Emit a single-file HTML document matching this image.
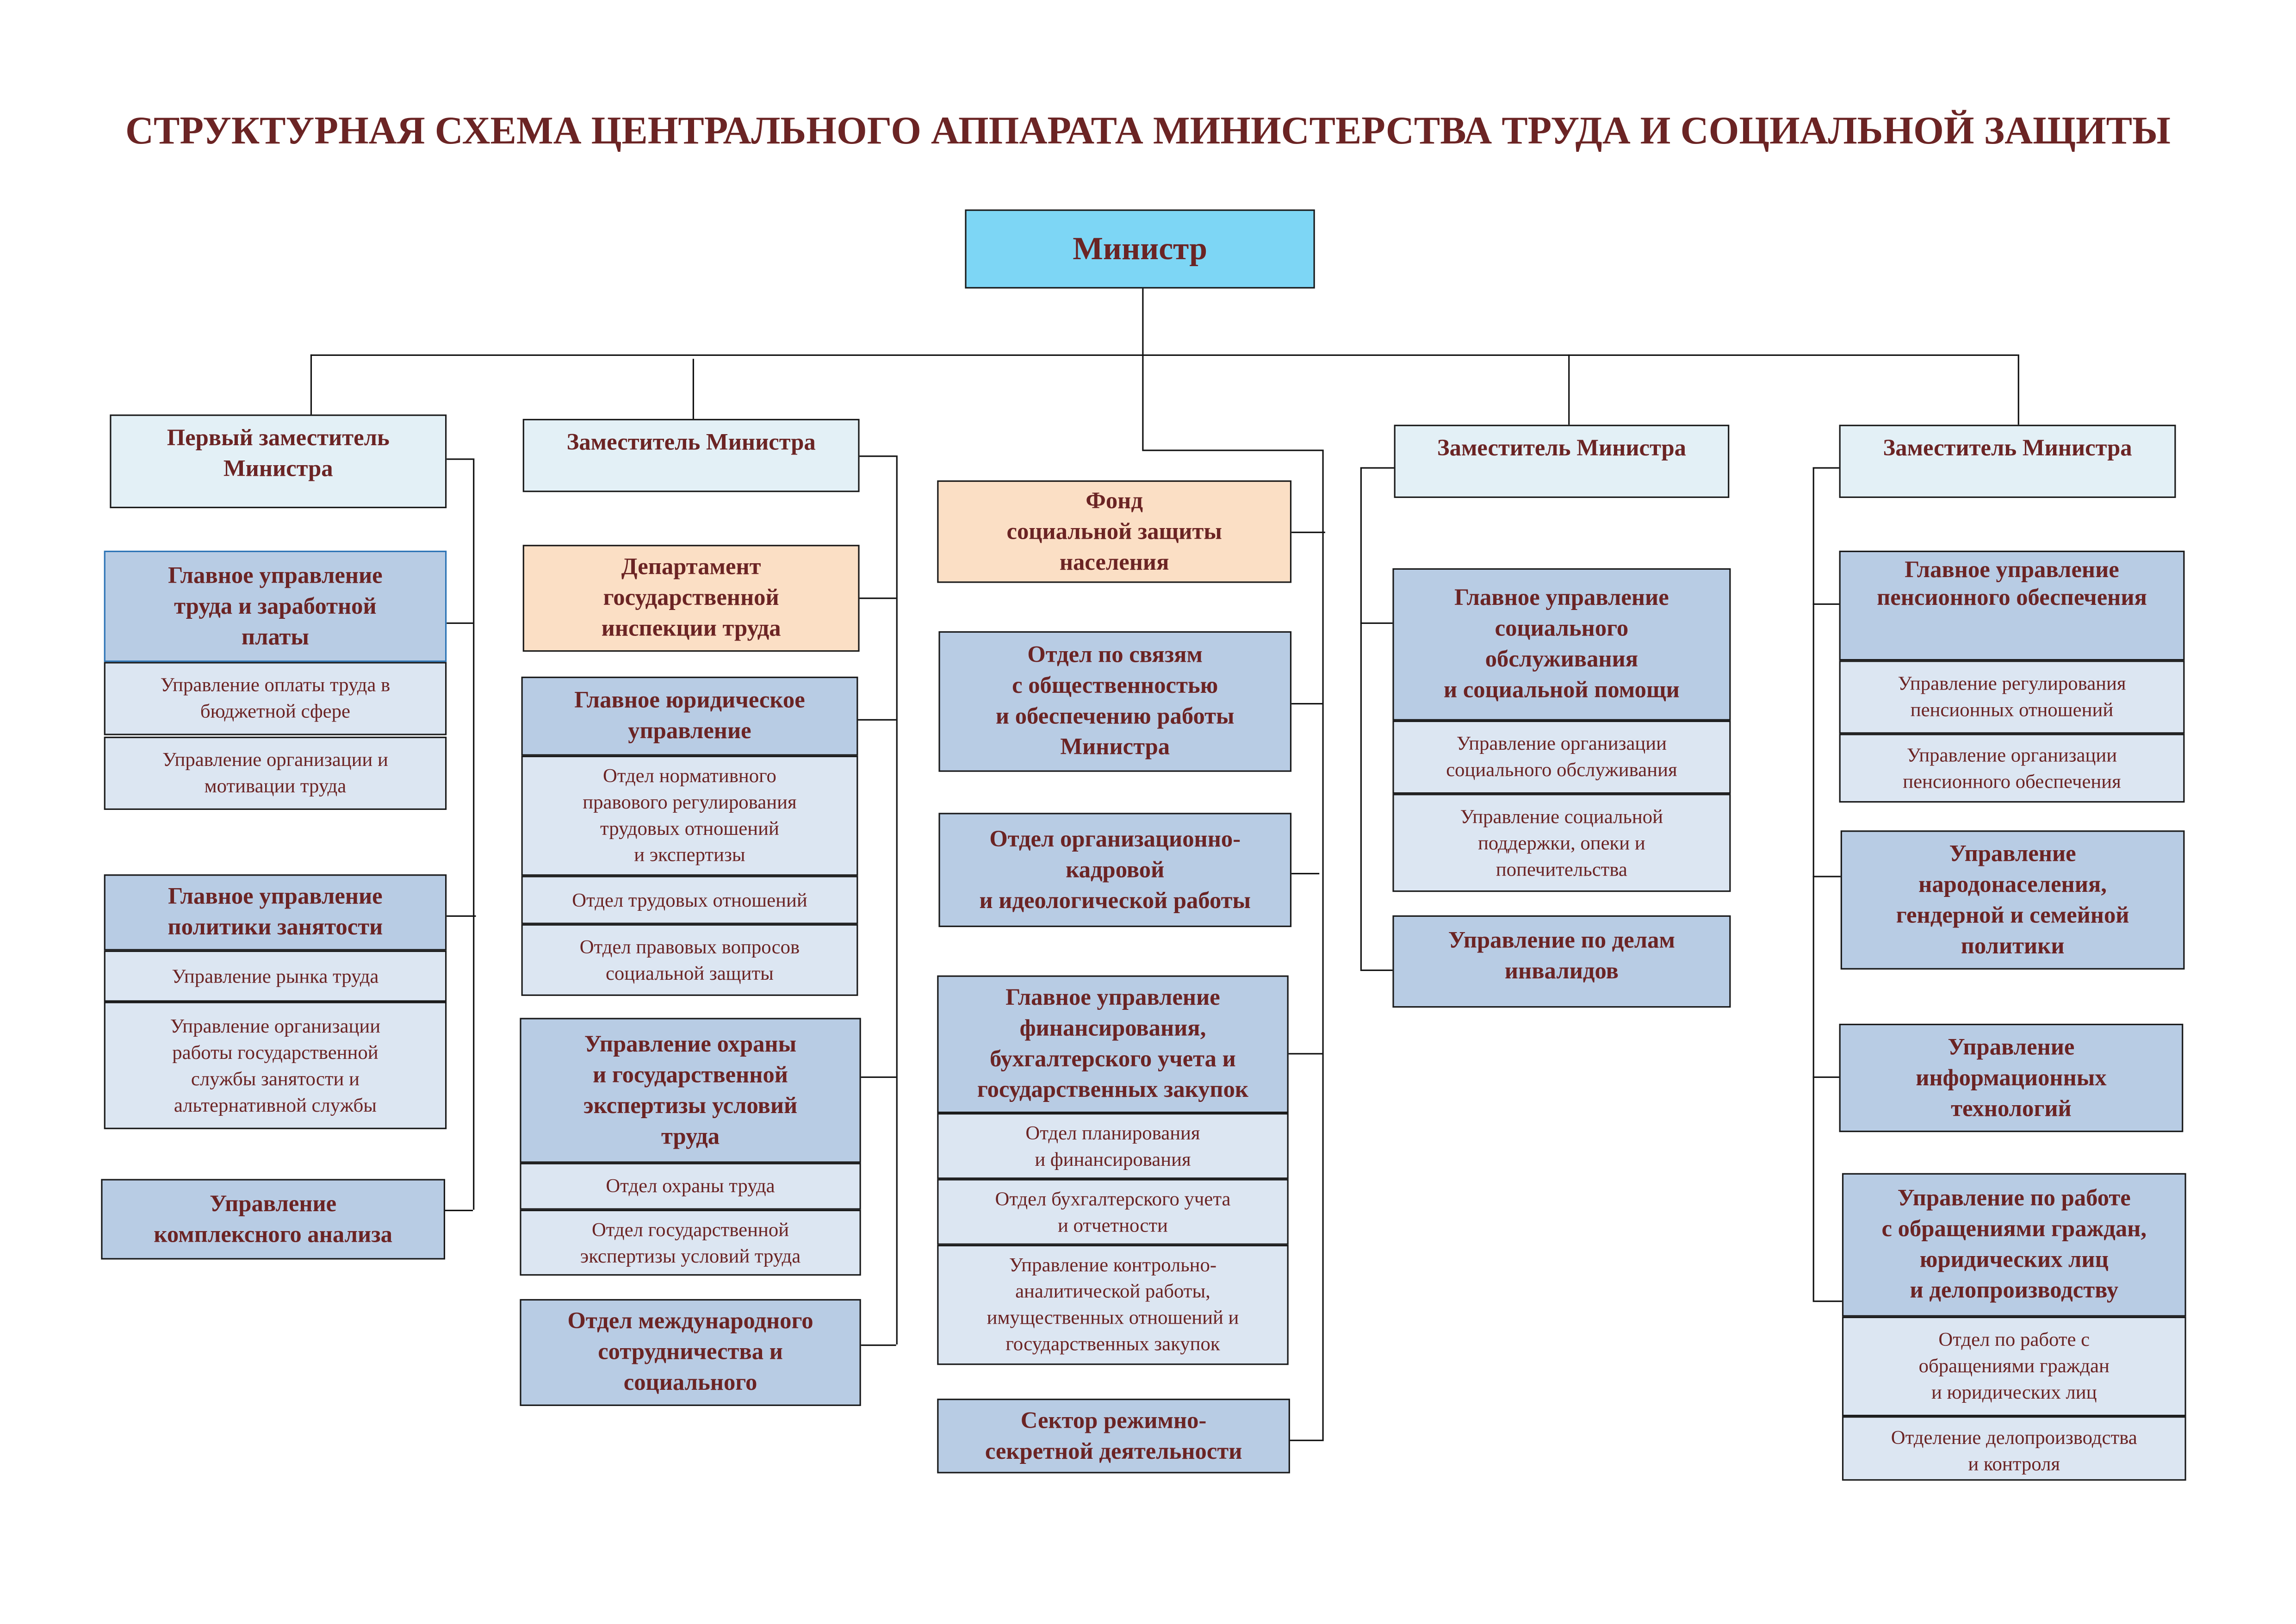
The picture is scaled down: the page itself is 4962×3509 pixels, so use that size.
<!DOCTYPE html>
<html><head><meta charset="utf-8"><style>
html,body{margin:0;padding:0;background:#fff;}
body{width:4962px;height:3509px;overflow:hidden;position:relative;}
#c{position:absolute;left:0;top:0;width:1568px;height:1109px;transform:scale(3.1645);transform-origin:0 0;}
.b{position:absolute;box-sizing:border-box;border:1px solid #1a1a1a;display:flex;align-items:center;justify-content:center;text-align:center;font-family:"Liberation Serif",serif;color:#6b2424;}
.h{font-weight:bold;font-size:16px;line-height:21px;background:#b8cce4;}
.s{font-size:13.5px;line-height:18px;background:#dce6f2;}
.d{font-weight:bold;font-size:16px;line-height:21px;background:#e3f0f6;align-items:flex-start;padding-top:5px;}
.p{background:#fbdfc5;}
.l{position:absolute;background:#111;}
.t{position:absolute;left:0;width:1568px;top:74px;text-align:center;font-family:"Liberation Serif",serif;font-weight:bold;font-size:26.7px;color:#6b2424;white-space:nowrap;}
</style></head><body><div id="c">
<div class="t">СТРУКТУРНАЯ СХЕМА ЦЕНТРАЛЬНОГО АППАРАТА МИНИСТЕРСТВА ТРУДА И СОЦИАЛЬНОЙ ЗАЩИТЫ</div>

<!-- lines -->
<div class="l" style="left:780px;top:197px;width:1px;height:110px"></div>
<div class="l" style="left:780px;top:307px;width:123px;height:1px"></div>
<div class="l" style="left:903px;top:307px;width:1px;height:677px"></div>
<div class="l" style="left:212px;top:242px;width:1166px;height:1px"></div>
<div class="l" style="left:212px;top:242px;width:1px;height:41px"></div>
<div class="l" style="left:473px;top:245px;width:1px;height:41px"></div>
<div class="l" style="left:1071px;top:242px;width:1px;height:48px"></div>
<div class="l" style="left:1378px;top:242px;width:1px;height:48px"></div>

<div class="l" style="left:305px;top:313px;width:18px;height:1px"></div>
<div class="l" style="left:323px;top:313px;width:1px;height:513px"></div>
<div class="l" style="left:305px;top:425px;width:18px;height:1px"></div>
<div class="l" style="left:305px;top:625px;width:20px;height:1px"></div>
<div class="l" style="left:304px;top:826px;width:19px;height:1px"></div>

<div class="l" style="left:587px;top:311px;width:25px;height:1px"></div>
<div class="l" style="left:612px;top:311px;width:1px;height:607px"></div>
<div class="l" style="left:587px;top:408px;width:25px;height:1px"></div>
<div class="l" style="left:586px;top:491px;width:26px;height:1px"></div>
<div class="l" style="left:588px;top:735px;width:24px;height:1px"></div>
<div class="l" style="left:588px;top:918px;width:24px;height:1px"></div>

<div class="l" style="left:882px;top:363px;width:23px;height:1px"></div>
<div class="l" style="left:882px;top:480px;width:21px;height:1px"></div>
<div class="l" style="left:882px;top:596px;width:19px;height:1px"></div>
<div class="l" style="left:880px;top:719px;width:23px;height:1px"></div>
<div class="l" style="left:881px;top:983px;width:22px;height:1px"></div>

<div class="l" style="left:929px;top:319px;width:23px;height:1px"></div>
<div class="l" style="left:929px;top:319px;width:1px;height:343px"></div>
<div class="l" style="left:929px;top:425px;width:22px;height:1px"></div>
<div class="l" style="left:929px;top:662px;width:22px;height:1px"></div>

<div class="l" style="left:1238px;top:319px;width:18px;height:1px"></div>
<div class="l" style="left:1238px;top:319px;width:1px;height:569px"></div>
<div class="l" style="left:1238px;top:412px;width:18px;height:1px"></div>
<div class="l" style="left:1238px;top:598px;width:19px;height:1px"></div>
<div class="l" style="left:1238px;top:735px;width:18px;height:1px"></div>
<div class="l" style="left:1238px;top:888px;width:20px;height:1px"></div>

<!-- minister -->
<div class="b" style="left:659px;top:143px;width:239px;height:54px;background:#7dd6f5;font-weight:bold;font-size:22px;">Министр</div>

<!-- col1 -->
<div class="b d" style="left:75px;top:283px;width:230px;height:64px;">Первый заместитель<br>Министра</div>
<div class="b h" style="left:71px;top:376px;width:234px;height:76px;border-color:#2e75b6">Главное управление<br>труда и заработной<br>платы</div>
<div class="b s" style="left:71px;top:452px;width:234px;height:50px;">Управление оплаты труда в<br>бюджетной сфере</div>
<div class="b s" style="left:71px;top:503px;width:234px;height:50px;">Управление организации и<br>мотивации труда</div>
<div class="b h" style="left:71px;top:597px;width:234px;height:52px;">Главное управление<br>политики занятости</div>
<div class="b s" style="left:71px;top:649px;width:234px;height:35px;">Управление рынка труда</div>
<div class="b s" style="left:71px;top:684px;width:234px;height:87px;">Управление организации<br>работы государственной<br>службы занятости и<br>альтернативной службы</div>
<div class="b h" style="left:69px;top:805px;width:235px;height:55px;">Управление<br>комплексного анализа</div>

<!-- col2 -->
<div class="b d" style="left:357px;top:286px;width:230px;height:50px;">Заместитель Министра</div>
<div class="b h p" style="left:357px;top:372px;width:230px;height:73px;">Департамент<br>государственной<br>инспекции труда</div>
<div class="b h" style="left:356px;top:462px;width:230px;height:54px;">Главное юридическое<br>управление</div>
<div class="b s" style="left:356px;top:516px;width:230px;height:82px;">Отдел нормативного<br>правового регулирования<br>трудовых отношений<br>и экспертизы</div>
<div class="b s" style="left:356px;top:598px;width:230px;height:33px;">Отдел трудовых отношений</div>
<div class="b s" style="left:356px;top:631px;width:230px;height:49px;">Отдел правовых вопросов<br>социальной защиты</div>
<div class="b h" style="left:355px;top:695px;width:233px;height:99px;">Управление охраны<br>и государственной<br>экспертизы условий<br>труда</div>
<div class="b s" style="left:355px;top:794px;width:233px;height:32px;">Отдел охраны труда</div>
<div class="b s" style="left:355px;top:826px;width:233px;height:45px;">Отдел государственной<br>экспертизы условий труда</div>
<div class="b h" style="left:355px;top:887px;width:233px;height:73px;">Отдел международного<br>сотрудничества и<br>социального</div>

<!-- col3 -->
<div class="b h p" style="left:640px;top:328px;width:242px;height:70px;">Фонд<br>социальной защиты<br>населения</div>
<div class="b h" style="left:641px;top:431px;width:241px;height:96px;">Отдел по связям<br>с общественностью<br>и обеспечению работы<br>Министра</div>
<div class="b h" style="left:641px;top:555px;width:241px;height:78px;">Отдел организационно-<br>кадровой<br>и идеологической работы</div>
<div class="b h" style="left:640px;top:666px;width:240px;height:94px;">Главное управление<br>финансирования,<br>бухгалтерского учета и<br>государственных закупок</div>
<div class="b s" style="left:640px;top:760px;width:240px;height:45px;">Отдел планирования<br>и финансирования</div>
<div class="b s" style="left:640px;top:805px;width:240px;height:45px;">Отдел бухгалтерского учета<br>и отчетности</div>
<div class="b s" style="left:640px;top:850px;width:240px;height:82px;">Управление контрольно-<br>аналитической работы,<br>имущественных отношений и<br>государственных закупок</div>
<div class="b h" style="left:640px;top:955px;width:241px;height:51px;">Сектор режимно-<br>секретной деятельности</div>

<!-- col4 -->
<div class="b d" style="left:952px;top:290px;width:229px;height:50px;">Заместитель Министра</div>
<div class="b h" style="left:951px;top:388px;width:231px;height:104px;">Главное управление<br>социального<br>обслуживания<br>и социальной помощи</div>
<div class="b s" style="left:951px;top:492px;width:231px;height:50px;">Управление организации<br>социального обслуживания</div>
<div class="b s" style="left:951px;top:542px;width:231px;height:67px;">Управление социальной<br>поддержки, опеки и<br>попечительства</div>
<div class="b h" style="left:951px;top:625px;width:231px;height:63px;align-items:flex-start;padding-top:6px;">Управление по делам<br>инвалидов</div>

<!-- col5 -->
<div class="b d" style="left:1256px;top:290px;width:230px;height:50px;">Заместитель Министра</div>
<div class="b h" style="left:1256px;top:376px;width:236px;height:75px;align-items:flex-start;padding-top:3px;line-height:19px;">Главное управление<br>пенсионного обеспечения</div>
<div class="b s" style="left:1256px;top:451px;width:236px;height:50px;">Управление регулирования<br>пенсионных отношений</div>
<div class="b s" style="left:1256px;top:501px;width:236px;height:47px;">Управление организации<br>пенсионного обеспечения</div>
<div class="b h" style="left:1257px;top:567px;width:235px;height:95px;">Управление<br>народонаселения,<br>гендерной и семейной<br>политики</div>
<div class="b h" style="left:1256px;top:699px;width:235px;height:74px;">Управление<br>информационных<br>технологий</div>
<div class="b h" style="left:1258px;top:801px;width:235px;height:98px;">Управление по работе<br>с обращениями граждан,<br>юридических лиц<br>и делопроизводству</div>
<div class="b s" style="left:1258px;top:899px;width:235px;height:68px;">Отдел по работе с<br>обращениями граждан<br>и юридических лиц</div>
<div class="b s" style="left:1258px;top:967px;width:235px;height:44px;align-items:flex-start;padding-top:5px;overflow:hidden;">Отделение делопроизводства<br>и контроля</div>
</div></body></html>
